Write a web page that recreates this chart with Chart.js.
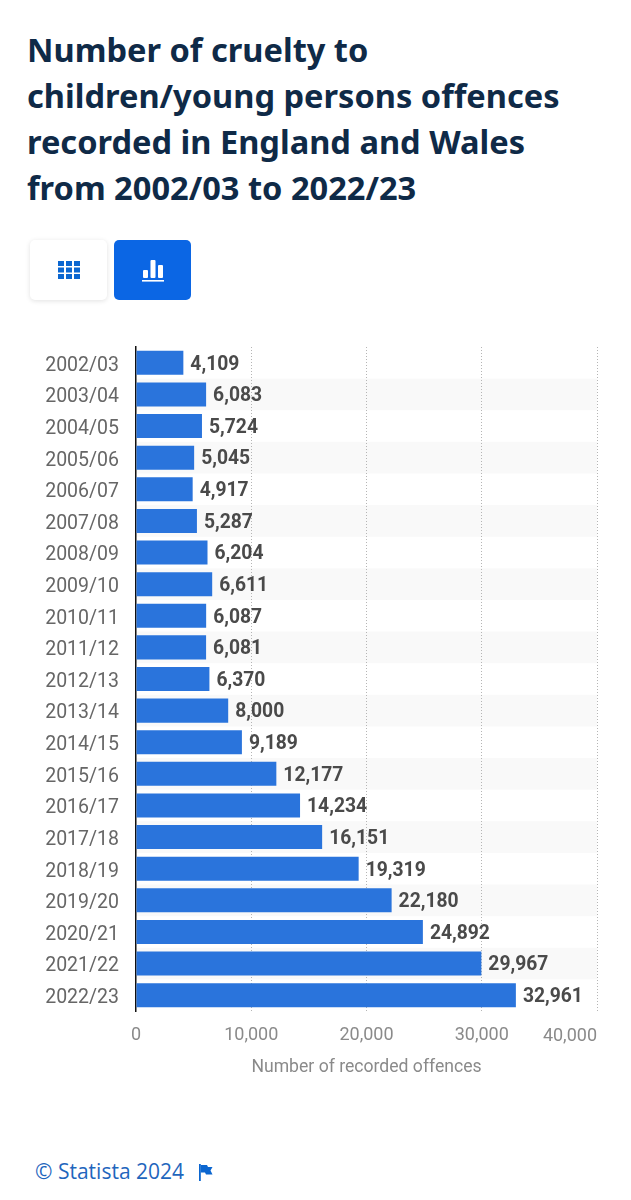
<!DOCTYPE html>
<html>
<head>
<meta charset="utf-8">
<title>Cruelty to children offences</title>
<script src="https://cdn.jsdelivr.net/npm/chart.js@4"></script>
<style>
  html, body { margin: 0; padding: 0; background: #fff; }
  body { position: relative; width: 631px; height: 1200px; overflow: hidden; }
  h1 {
    position: absolute; left: 27px; top: 27px; margin: 0; width: 600px;
    font: 700 32.6px/46px "Noto Sans", sans-serif; color: #0f2a47;
  }
  .btn {
    position: absolute; top: 240px; width: 77px; height: 60px; border-radius: 5px;
    display: flex; align-items: center; justify-content: center;
  }
  #tableBtn { left: 30px; background: #fff; box-shadow: 0 1px 5px rgba(0,0,0,0.12); }
  #chartBtn { left: 114px; background: #0b66e4; }
  #chartWrap { position: absolute; left: 0; top: 320px; width: 631px; height: 780px; }
  #credit {
    position: absolute; left: 35px; top: 1157px;
    font: 400 21px/28px "Open Sans", sans-serif; color: #1f66bd;
  }
  #credit svg { position: absolute; left: 164px; top: 7px; }
</style>
</head>
<body>
<h1>Number of cruelty to<br>children/young persons offences<br>recorded in England and Wales<br>from 2002/03 to 2022/23</h1>

<div class="btn" id="tableBtn">
  <svg width="22" height="18" viewBox="0 0 22 18" fill="#0b66d0">
    <rect x="0" y="0" width="6" height="5"/><rect x="8" y="0" width="6" height="5"/><rect x="16" y="0" width="6" height="5"/>
    <rect x="0" y="6.5" width="6" height="5"/><rect x="8" y="6.5" width="6" height="5"/><rect x="16" y="6.5" width="6" height="5"/>
    <rect x="0" y="13" width="6" height="5"/><rect x="8" y="13" width="6" height="5"/><rect x="16" y="13" width="6" height="5"/>
  </svg>
</div>
<div class="btn" id="chartBtn">
  <svg width="22" height="23" viewBox="0 0 22 23" fill="#fff">
    <rect x="1" y="11" width="5" height="8" rx="1"/><rect x="8.5" y="1" width="5" height="18" rx="1"/><rect x="16" y="6" width="5" height="13" rx="1"/>
    <rect x="0" y="21" width="22" height="1.6"/>
  </svg>
</div>

<div id="chartWrap"><canvas id="chart"></canvas></div>

<div id="credit">© Statista 2024
  <svg width="14" height="17" viewBox="0 0 14 17" fill="#0b66d0">
    <rect x="0" y="0" width="1.8" height="17"/>
    <path d="M1.8 1 H8 L9 3 H13.5 L11.5 6.5 L13.5 10.5 H7 L6 8.5 H1.8 Z"/>
  </svg>
</div>

<script>
const categories = ["2002/03", "2003/04", "2004/05", "2005/06", "2006/07", "2007/08", "2008/09",
  "2009/10", "2010/11", "2011/12", "2012/13", "2013/14", "2014/15", "2015/16", "2016/17",
  "2017/18", "2018/19", "2019/20", "2020/21", "2021/22", "2022/23"];
const offences = [4109, 6083, 5724, 5045, 4917, 5287, 6204, 6611, 6087, 6081, 6370, 8000, 9189,
  12177, 14234, 16151, 19319, 22180, 24892, 29967, 32961];
const xTicks = [0, 10000, 20000, 30000, 40000];
const xTitle = "Number of recorded offences";

const fmt = v => v.toLocaleString("en-US");

// alternate row shading behind the bars
const rowBands = {
  id: "rowBands",
  beforeDraw(chart) {
    const { ctx, chartArea, scales } = chart;
    ctx.save();
    ctx.fillStyle = "#f9f9f9";
    const step = scales.y.getPixelForValue(1) - scales.y.getPixelForValue(0);
    categories.forEach((c, i) => {
      if (i % 2 === 0) return;
      const cy = scales.y.getPixelForValue(i);
      ctx.fillRect(chartArea.left, cy - step / 2, chartArea.right - chartArea.left, step);
    });
    ctx.restore();
  }
};

// value labels, category labels (sit a bit low in the original) and the right-aligned last x tick
const textBits = {
  id: "textBits",
  afterDraw(chart) {
    const { ctx, scales } = chart;
    ctx.save();
    ctx.font = "700 19.3px Roboto";
    ctx.fillStyle = "#4a4a4a";
    ctx.textAlign = "left";
    ctx.textBaseline = "middle";
    chart.getDatasetMeta(0).data.forEach((bar, i) => {
      ctx.fillText(fmt(offences[i]), bar.x + 7, bar.y + 2);
    });
    ctx.font = "400 19.5px Roboto";
    ctx.fillStyle = "#666";
    ctx.textAlign = "right";
    categories.forEach((c, i) => {
      ctx.fillText(c, 119, scales.y.getPixelForValue(i) + 3);
    });
    const last = xTicks[xTicks.length - 1];
    ctx.font = "400 18px Roboto";
    ctx.fillStyle = "#8a8a8a";
    ctx.fillText(fmt(last), scales.x.getPixelForValue(last), 716);
    ctx.restore();
  }
};

document.addEventListener("DOMContentLoaded", () => {
  new Chart(document.getElementById("chart"), {
    type: "bar",
    plugins: [rowBands, textBits],
    data: {
      labels: categories,
      datasets: [{
        data: offences,
        backgroundColor: "#2a74dc",
        borderWidth: 0,
        barPercentage: 0.76,
        categoryPercentage: 1
      }]
    },
    options: {
      indexAxis: "y",
      responsive: true,
      maintainAspectRatio: false,
      animation: false,
      layout: { padding: { top: 27, right: 34, left: 0, bottom: 22 } },
      plugins: { legend: { display: false }, tooltip: { enabled: false } },
      scales: {
        x: {
          min: 0,
          max: 40000,
          afterBuildTicks: axis => { axis.ticks = xTicks.map(v => ({ value: v })); },
          afterFit: axis => { axis.height = 67; },
          border: { display: false, dash: [1, 2] },
          grid: {
            drawTicks: false,
            color: ctx => ctx.tick && ctx.tick.value === 0 ? "rgba(0,0,0,0)" : "#b5b5b5",
            lineWidth: 1
          },
          ticks: {
            padding: 14,
            maxRotation: 0,
            autoSkip: false,
            font: { family: "Roboto", size: 18 },
            color: "#8a8a8a",
            callback: v => v === xTicks[xTicks.length - 1] ? "" : fmt(v)
          },
          title: {
            display: true,
            text: xTitle,
            font: { family: "Roboto", size: 17.6 },
            color: "#8a8a8a",
            padding: { top: 10, bottom: 0 }
          }
        },
        y: {
          afterFit: axis => { axis.width = 136; },
          border: { color: "#111", width: 1.5 },
          grid: { display: false },
          ticks: { display: false }
        }
      }
    }
  });
});
</script>
</body>
</html>
